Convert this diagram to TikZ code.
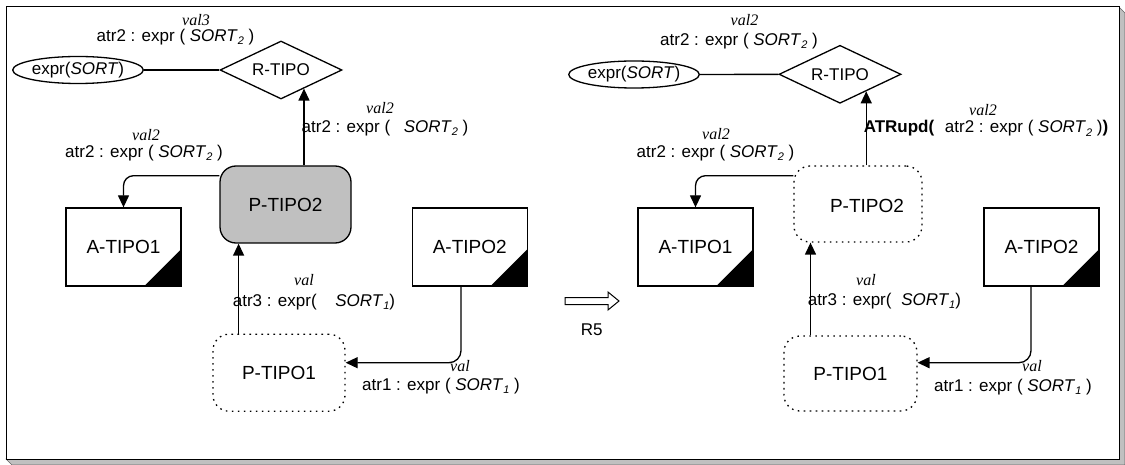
\documentclass[tikz,border=0pt]{standalone}
\usepackage{fontspec}
\setmainfont{Liberation Sans}
\newfontfamily\tmsfont{Liberation Serif}
\usetikzlibrary{shapes.geometric,arrows.meta}
\definecolor{boxgray}{HTML}{C0C0C0}
% sort name with an index
\newcommand\srt[1]{\textit{SORT}\raisebox{-0.4ex}{\fontsize{11}{11}\selectfont\textit{#1}}}
\tikzset{
  conn/.style={line width=1.3pt},
  arr/.style={conn, -{Triangle[length=12pt,width=11pt]}},
  abox/.style={draw, line width=1.3pt, fill=white, minimum width=115pt, minimum height=78pt,
    inner sep=0pt, font=\fontsize{19}{22}\selectfont},
  pbox/.style={draw, line width=1.3pt, rounded corners=16pt, inner sep=0pt,
    font=\fontsize{19}{22}\selectfont},
  dotbox/.style={pbox, dash pattern=on 1.6pt off 4.4pt},
  rel/.style={diamond, aspect=2.1, draw, line width=1.3pt, minimum width=122pt,
    minimum height=58pt, inner sep=0pt, font=\fontsize{17}{20}\selectfont},
  attrib/.style={ellipse, draw, line width=1.3pt, minimum width=124pt, minimum height=27pt,
    inner sep=0pt, font=\fontsize{17}{20}\selectfont},
  lbl/.style={inner sep=0pt, font=\fontsize{17}{20}\selectfont},
  vallbl/.style={inner sep=0pt, font=\fontsize{16}{19}\selectfont\tmsfont\itshape},
}
\begin{document}
\begin{tikzpicture}[x=1pt,y=-1pt]
\useasboundingbox (0,0) rectangle (1125,465);

% frame with drop shadow
\filldraw[boxgray, draw=black!60, line width=0.6pt]
  (6,459) -- (12,465) -- (1125,465) -- (1125,13) -- (1119,7) -- cycle;
\draw[line width=1pt, fill=white] (6,7) rectangle (1119,459);

% ---------- before the rule ----------
\node[attrib] (eL) at (78,70) {expr(\textit{SORT})};
\node[rel] (rL) at (281,70) {R-TIPO};
\node[pbox, fill=boxgray, minimum width=131pt, minimum height=77pt] (p2L) at (285.5,204.5) {P-TIPO2};
\node[abox] (a1L) at (123.5,247) {A-TIPO1};
\node[abox] (a2L) at (469.75,247) {A-TIPO2};
\node[dotbox, minimum width=132pt, minimum height=77pt] (p1L) at (279,372.7) {P-TIPO1};
\fill (a1L.south east) -- ++(-38pt,0pt) -- ([yshift=38pt]a1L.south east) -- cycle;
\fill (a2L.south east) -- ++(-38pt,0pt) -- ([yshift=38pt]a2L.south east) -- cycle;

\draw[conn] (eL) -- (rL);
\draw[arr] (p2L.north -| rL.-39) -- (rL.-39);
\draw[arr, rounded corners=10pt] ([yshift=28.8pt]p2L.west) -| (a1L.north);
\draw[arr] ([xshift=-40.4pt]p1L.north) -- ([xshift=-40.4pt]p1L.north |- p2L.south);
\draw[arr, rounded corners=12pt] ([xshift=-8.75pt]a2L.south) |- ([yshift=10pt]p1L.east);

\node[vallbl] (v3L) at (196,20) {val3};
\node[lbl] (t3L) at (175.5,37) {atr2 : expr ( \srt{2} )};
\node[vallbl] (v2aL) at (146,135) {val2};
\node[lbl] (t2aL) at (144,153) {atr2 : expr ( \srt{2} )};
\node[vallbl] (v2bL) at (380,108) {val2};
\node[lbl] (t2bL) at (385,128) {atr2 : expr (\hspace{9pt} \srt{2} )};
\node[vallbl] (v1aL) at (304,280) {val};
\node[lbl] (t1aL) at (314,302) {atr3 : expr(\hspace{14pt} \srt{1})};
\node[vallbl] (v1bL) at (460,366) {val};
\node[lbl] (t1bL) at (441,386) {atr1 : expr ( \srt{1} )};

% ---------- rule ----------
\draw[line width=1pt, fill=white]
  (565,297.5) -- (608,297.5) -- (608,292) -- (619,301) -- (608,310) -- (608,304.5) -- (565,304.5) -- cycle;
\node[lbl] (rule) at (591.7,330) {R5};

% ---------- after the rule ----------
\node[attrib] (eR) at (634,74.5) {expr(\textit{SORT})};
\node[rel] (rR) at (840,74.3) {R-TIPO};
\node[dotbox, minimum width=128pt, minimum height=76pt] (p2R) at (858,204) {};
\node[pbox, draw=none] (p2Rt) at (867,206) {P-TIPO2};
\node[abox] (a1R) at (695.5,247) {A-TIPO1};
\node[abox] (a2R) at (1041.5,247) {A-TIPO2};
\node[dotbox, minimum width=133pt, minimum height=75pt] (p1R) at (850.4,373.5) {P-TIPO1};
\fill (a1R.south east) -- ++(-38pt,0pt) -- ([yshift=38pt]a1R.south east) -- cycle;
\fill (a2R.south east) -- ++(-38pt,0pt) -- ([yshift=38pt]a2R.south east) -- cycle;

\draw[conn] (eR) -- (rR);
\draw[arr] (p2R.north -| rR.-33) -- (rR.-33);
\draw[arr, rounded corners=10pt] ([yshift=28.3pt]p2R.west) -| (a1R.north);
\draw[arr] ([xshift=-39.9pt]p1R.north) -- ([xshift=-39.9pt]p1R.north |- p2R.south);
\draw[arr, rounded corners=12pt] ([xshift=-10.5pt]a2R.south) |- ([yshift=10.8pt]p1R.east);

\node[vallbl] (v3R) at (744.5,20) {val2};
\node[lbl] (t3R) at (739,41) {atr2 : expr ( \srt{2} )};
\node[vallbl] (v2aR) at (716,134) {val2};
\node[lbl] (t2aR) at (715.5,153) {atr2 : expr ( \srt{2} )};
\node[vallbl] (v2bR) at (983,110) {val2};
\node[lbl] (t2bR) at (986,128.5) {\textbf{ATRupd(}\hspace{6pt} atr2 : expr ( \srt{2} )\textbf{)}};
\node[vallbl] (v1aR) at (866,280) {val};
\node[lbl] (t1aR) at (884.4,301) {atr3 : expr(\hspace{5pt} \srt{1})};
\node[vallbl] (v1bR) at (1032,366) {val};
\node[lbl] (t1bR) at (1013,387) {atr1 : expr ( \srt{1} )};
\end{tikzpicture}
\end{document}
